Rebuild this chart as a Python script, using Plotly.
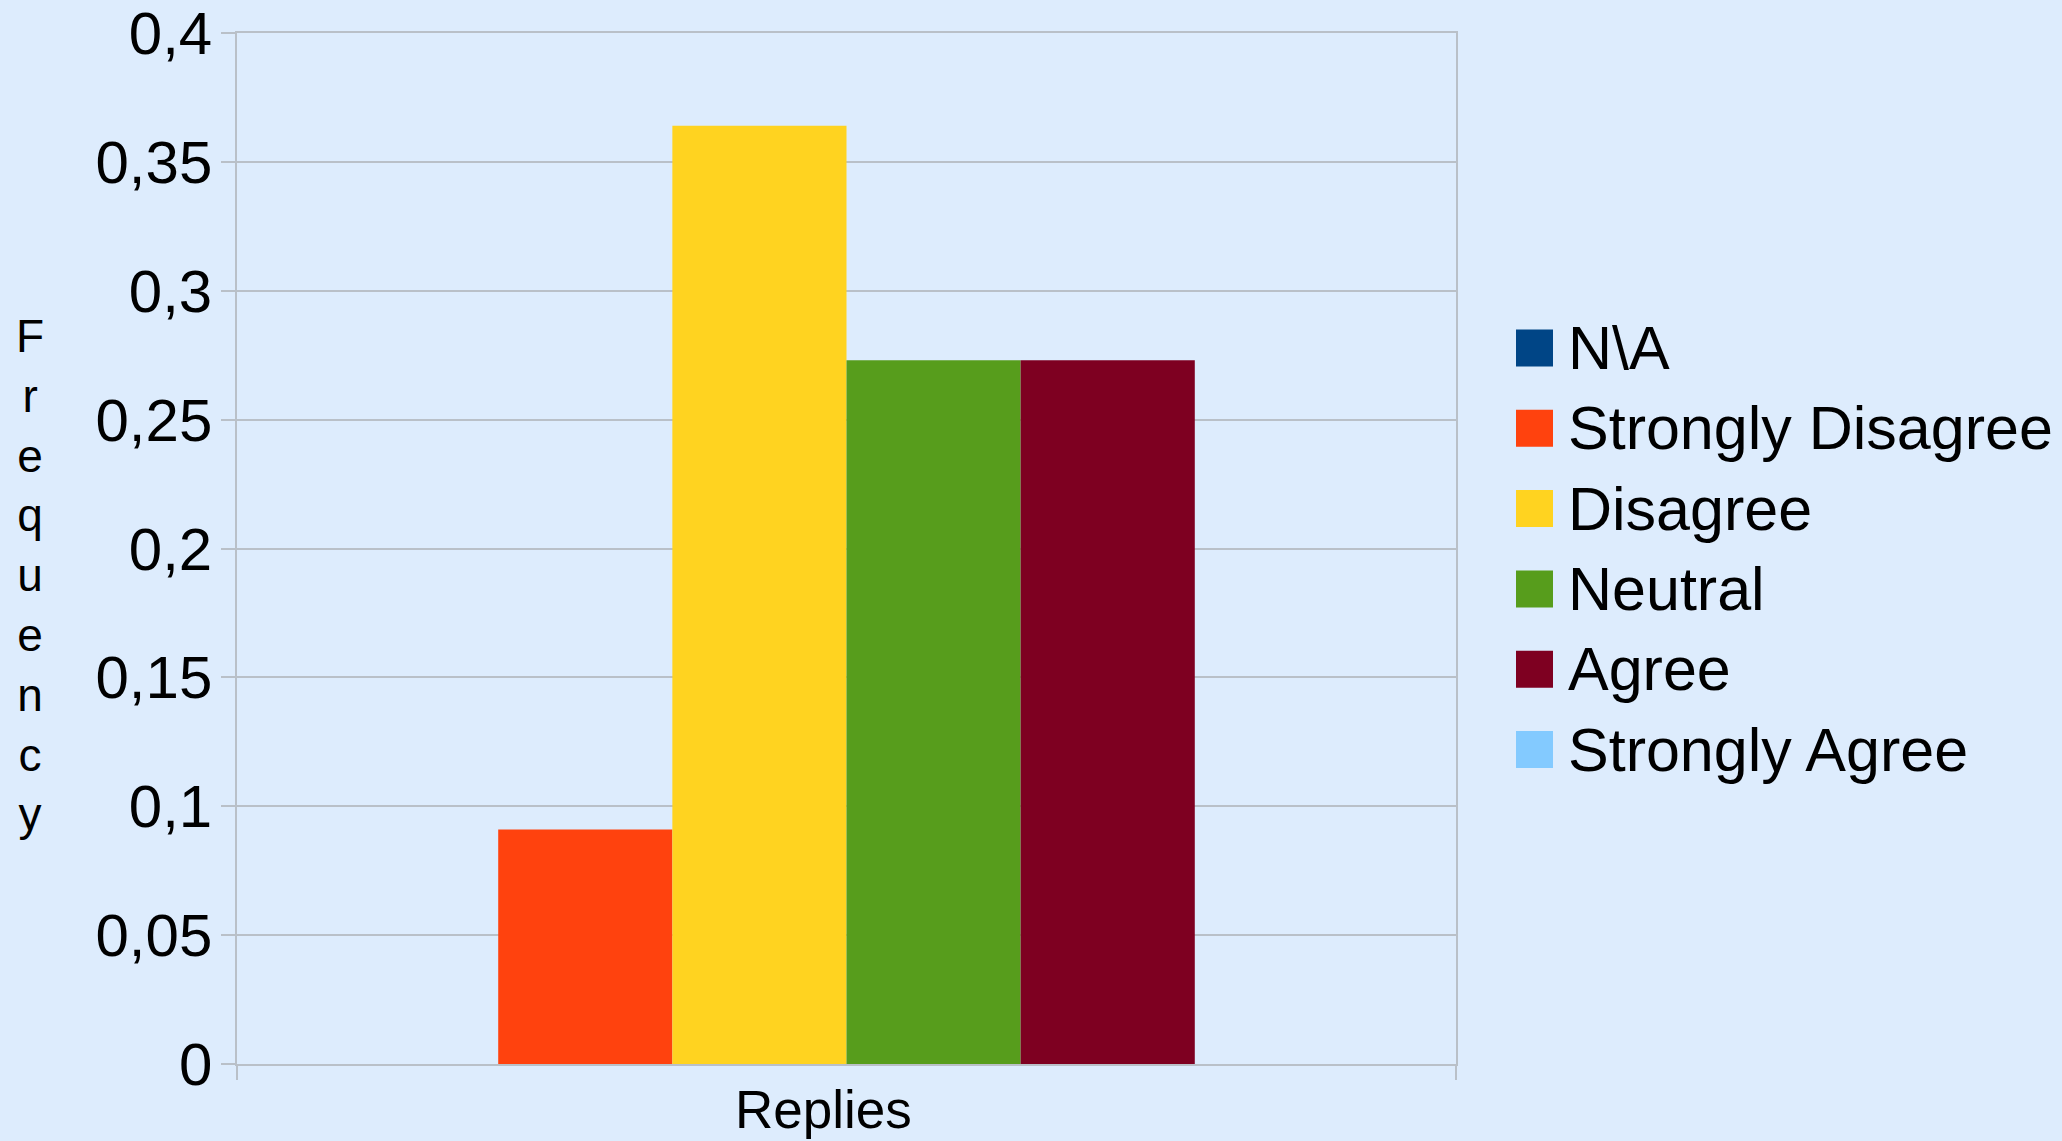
import plotly.graph_objects as go

# data
category = "Replies"
answers = ["N\\A", "Strongly Disagree", "Disagree", "Neutral", "Agree", "Strongly Agree"]
frequency = [0.0, 0.091, 0.364, 0.273, 0.273, 0.0]
colors = ["#004586", "#ff420e", "#ffd320", "#579d1c", "#7e0021", "#83caff"]
tick_vals = [0, 0.05, 0.1, 0.15, 0.2, 0.25, 0.3, 0.35, 0.4]
tick_labels = ["0", "0,05", "0,1", "0,15", "0,2", "0,25", "0,3", "0,35", "0,4"]

W, H = 2062, 1141
L, R, T, B = 237, 1456, 33, 1064
bg = "#ddecfd"
grid = "#b9c0c8"
font = "Liberation Sans"


def px_x(p):
    return (p - L) / (R - L)


def px_y(p):
    return (B - p) / (B - T)


fig = go.Figure()
for name, val, col in zip(answers, frequency, colors):
    fig.add_trace(go.Bar(x=[category], y=[val], name=name,
                         marker=dict(color=col, line=dict(width=0))))

fig.update_layout(
    width=W, height=H,
    margin=dict(l=L, r=W - R, t=T, b=H - B, autoexpand=False),
    paper_bgcolor=bg, plot_bgcolor=bg,
    barmode="group", bargap=1 / 7, bargroupgap=0,
    showlegend=False,
    font=dict(family=font, color="black"),
)
fig.update_yaxes(
    range=[0, 0.4], tickvals=tick_vals, ticktext=tick_labels,
    tickfont=dict(size=60, family=font, color="black"),
    ticks="outside", ticklen=14, tickcolor=grid, tickwidth=1.5,
    showgrid=True, gridcolor=grid, gridwidth=1.5,
    showline=True, linecolor=grid, linewidth=1.5, mirror=True,
    zeroline=False, ticklabelstandoff=-3, automargin=False,
)
fig.update_xaxes(
    showticklabels=False, tickson="boundaries",
    ticks="outside", ticklen=14, tickcolor=grid, tickwidth=1.5,
    showgrid=True, gridcolor=grid, gridwidth=1.5,
    showline=True, linecolor=grid, linewidth=1.5, mirror=True,
    automargin=False,
)

# axis titles
fig.add_annotation(text="<br>".join("Frequency"), xref="paper", yref="paper",
                   x=px_x(30), y=px_y(575), xanchor="center", yanchor="middle",
                   showarrow=False, align="center",
                   font=dict(size=46, family=font, color="black"))
fig.add_annotation(text=category, xref="paper", yref="paper",
                   x=px_x(823), y=px_y(H), xanchor="center", yanchor="bottom",
                   showarrow=False, font=dict(size=53, family=font, color="black"))

# legend drawn by hand so the swatches can be large
row0, step, sw = 348, 80.3, 37
for i, (name, col) in enumerate(zip(answers, colors)):
    cy = row0 + i * step
    fig.add_shape(type="rect", xref="paper", yref="paper",
                  x0=px_x(1516), x1=px_x(1516 + sw),
                  y0=px_y(cy + sw / 2), y1=px_y(cy - sw / 2),
                  fillcolor=col, line=dict(width=0))
    fig.add_annotation(text=name, xref="paper", yref="paper",
                       x=px_x(1566), y=px_y(cy), xanchor="left", yanchor="middle",
                       showarrow=False, font=dict(size=61, family=font, color="black"))

fig.write_html("out.html", config={"displayModeBar": False},
               post_script="document.body.style.margin='0';")
